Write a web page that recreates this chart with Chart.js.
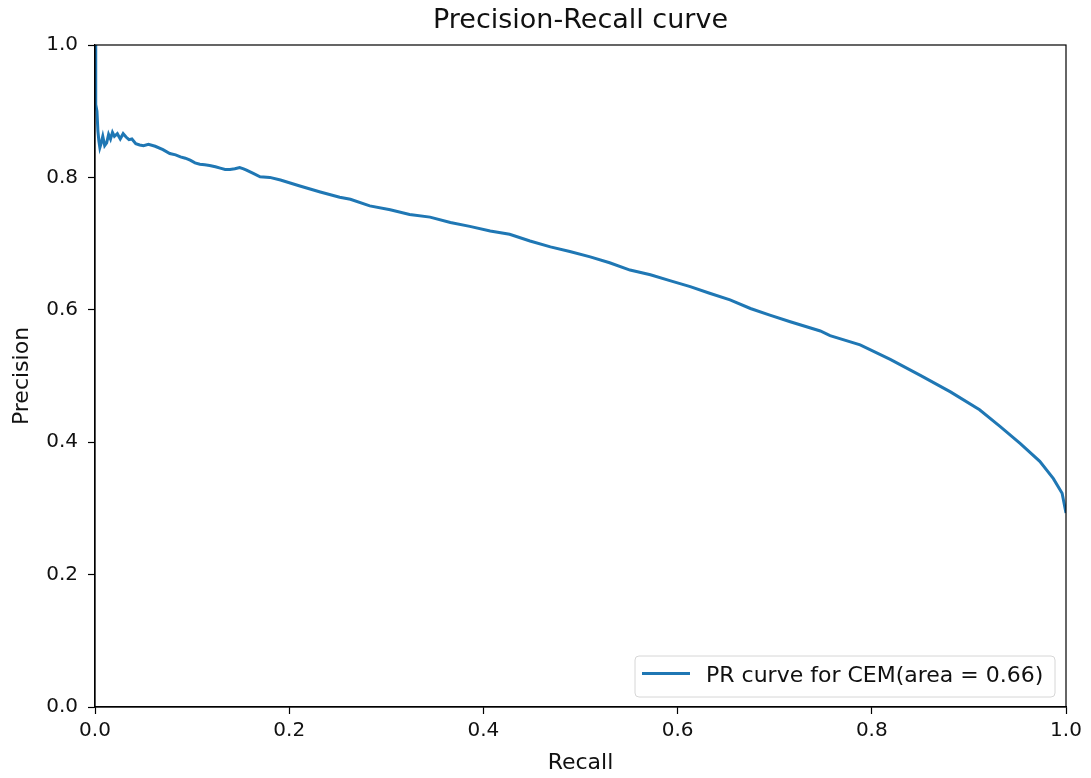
<!DOCTYPE html>
<html>
<head>
<meta charset="utf-8">
<title>Precision-Recall curve</title>
<script src="https://cdn.jsdelivr.net/npm/chart.js@4.4.1/dist/chart.umd.min.js"></script>
<style>
  html, body { margin: 0; padding: 0; background: #fff; }
  #wrap { width: 1091px; height: 778px; }
</style>
</head>
<body>
<div id="wrap"><canvas id="prChart" width="1091" height="778"></canvas></div>
<script>
// recall (x) and precision (y)
let recall = [0, 0.0005, 0.001, 0.002, 0.003, 0.004, 0.005, 0.006, 0.008, 0.01,
  0.012, 0.014, 0.016, 0.018, 0.02, 0.023, 0.026, 0.029, 0.032, 0.035,
  0.038, 0.042, 0.046, 0.05, 0.055, 0.062, 0.07, 0.077, 0.083, 0.088,
  0.093, 0.098, 0.103, 0.108, 0.113, 0.118, 0.124, 0.129, 0.134, 0.139,
  0.144, 0.149, 0.153, 0.156, 0.163, 0.170, 0.180, 0.191, 0.211, 0.232,
  0.252, 0.263, 0.283, 0.304, 0.324, 0.345, 0.366, 0.386, 0.407, 0.427,
  0.448, 0.469, 0.489, 0.510, 0.530, 0.551, 0.572, 0.592, 0.613, 0.633,
  0.654, 0.675, 0.695, 0.716, 0.747, 0.757, 0.788, 0.819, 0.850, 0.881,
  0.911, 0.932, 0.953, 0.973, 0.987, 0.996, 1.0];

let precision = [1.0, 0.97, 0.91, 0.90, 0.87, 0.855, 0.845, 0.85, 0.862, 0.848,
  0.852, 0.865, 0.858, 0.868, 0.862, 0.866, 0.858, 0.866, 0.861, 0.857,
  0.858, 0.851, 0.849, 0.848, 0.850, 0.847, 0.842, 0.836, 0.834, 0.831,
  0.829, 0.826, 0.822, 0.820, 0.819, 0.818, 0.816, 0.814, 0.812, 0.812,
  0.813, 0.815, 0.813, 0.811, 0.806, 0.801, 0.800, 0.796, 0.787, 0.778,
  0.770, 0.767, 0.757, 0.751, 0.744, 0.740, 0.732, 0.726, 0.719, 0.714,
  0.704, 0.695, 0.688, 0.680, 0.671, 0.660, 0.653, 0.644, 0.635, 0.625,
  0.615, 0.602, 0.592, 0.582, 0.568, 0.561, 0.547, 0.525, 0.501, 0.476,
  0.449, 0.424, 0.398, 0.371, 0.345, 0.323, 0.293];

let xTicks = [0, 0.2, 0.4, 0.6, 0.8, 1.0];
let yTicks = [0, 0.2, 0.4, 0.6, 0.8, 1.0];

let seriesLabel = 'PR curve for CEM(area = 0.66)';
let lineColor = '#1f77b4';
let fontFamily = '"DejaVu Sans", sans-serif';

let points = recall.map((r, i) => ({ x: r, y: precision[i] }));

// box around the axes, title above it and legend in the lower right corner
let framePlugin = {
    id: 'frame',
    afterDraw(chart) {
        let ctx = chart.ctx;
        let a = chart.chartArea;
        ctx.save();
        ctx.strokeStyle = '#000';
        ctx.lineWidth = 1.2;
        ctx.strokeRect(a.left, a.top, a.right - a.left, a.bottom - a.top);

        // title
        ctx.fillStyle = '#111';
        ctx.font = '27px ' + fontFamily;
        ctx.textAlign = 'center';
        ctx.textBaseline = 'middle';
        ctx.fillText('Precision-Recall curve', (a.left + a.right) / 2, 21);

        // legend
        let bx = 635, by = 656, bw = 420, bh = 41, r = 4;
        ctx.beginPath();
        ctx.moveTo(bx + r, by);
        ctx.arcTo(bx + bw, by, bx + bw, by + bh, r);
        ctx.arcTo(bx + bw, by + bh, bx, by + bh, r);
        ctx.arcTo(bx, by + bh, bx, by, r);
        ctx.arcTo(bx, by, bx + bw, by, r);
        ctx.closePath();
        ctx.fillStyle = 'rgba(255,255,255,0.8)';
        ctx.fill();
        ctx.strokeStyle = '#d6d6d6';
        ctx.lineWidth = 1;
        ctx.stroke();

        ctx.strokeStyle = lineColor;
        ctx.lineWidth = 3;
        ctx.beginPath();
        ctx.moveTo(642, 673.5);
        ctx.lineTo(690, 673.5);
        ctx.stroke();

        ctx.fillStyle = '#111';
        ctx.font = '22px ' + fontFamily;
        ctx.textAlign = 'left';
        ctx.fillText(seriesLabel, 706, 676);
        ctx.restore();
    }
};

let ctx = document.getElementById('prChart').getContext('2d');

let prChart = new Chart(ctx, {
    type: 'scatter',
    data: {
        datasets: [{
            label: seriesLabel,
            data: points,
            showLine: true,
            borderColor: lineColor,
            backgroundColor: lineColor,
            borderWidth: 3,
            pointRadius: 0,
            tension: 0
        }]
    },
    options: {
        responsive: false,
        animation: false,
        layout: {
            padding: { top: 45, right: 25, left: 0, bottom: 0 }
        },
        plugins: {
            legend: { display: false },
            title: { display: false },
            tooltip: { enabled: false }
        },
        scales: {
            x: {
                type: 'linear',
                min: 0,
                max: 1,
                afterFit: (scale) => { scale.height = 71; },
                afterBuildTicks: (scale) => { scale.ticks = xTicks.map(v => ({ value: v })); },
                grid: {
                    drawOnChartArea: false,
                    drawTicks: true,
                    tickLength: 7,
                    tickColor: '#000',
                    tickWidth: 1.2
                },
                border: { color: '#000', width: 1.2 },
                ticks: {
                    color: '#111',
                    padding: 5,
                    font: { family: fontFamily, size: 20 },
                    callback: (v) => Number(v).toFixed(1)
                },
                title: {
                    display: true,
                    text: 'Recall',
                    color: '#111',
                    font: { family: fontFamily, size: 22 },
                    padding: { top: 0, bottom: 2 }
                }
            },
            y: {
                type: 'linear',
                min: 0,
                max: 1,
                afterFit: (scale) => { scale.width = 95; },
                afterBuildTicks: (scale) => { scale.ticks = yTicks.map(v => ({ value: v })); },
                grid: {
                    drawOnChartArea: false,
                    drawTicks: true,
                    tickLength: 7,
                    tickColor: '#000',
                    tickWidth: 1.2
                },
                border: { color: '#000', width: 1.2 },
                ticks: {
                    color: '#111',
                    padding: 10,
                    font: { family: fontFamily, size: 20 },
                    callback: (v) => Number(v).toFixed(1)
                },
                title: {
                    display: true,
                    text: 'Precision',
                    color: '#111',
                    font: { family: fontFamily, size: 22 },
                    padding: { top: 9, bottom: 0 }
                }
            }
        }
    },
    plugins: [framePlugin]
});
</script>
</body>
</html>
